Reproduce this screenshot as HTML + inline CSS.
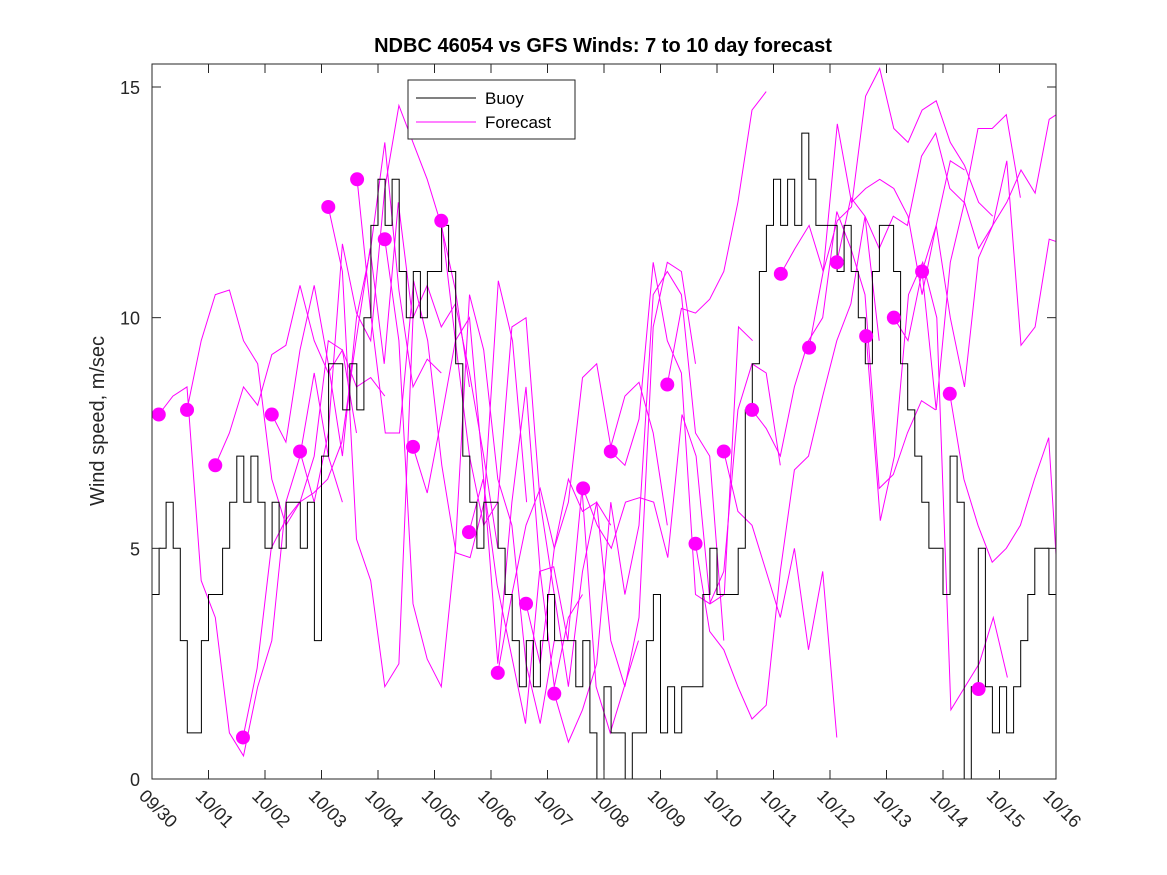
<!DOCTYPE html>
<html><head><meta charset="utf-8"><style>
body{margin:0;background:#fff;}
svg{display:block;font-family:"Liberation Sans",sans-serif;}
</style></head><body>
<svg id="chart" width="1167" height="875">
<defs><clipPath id="plotclip"><rect x="152" y="64" width="904" height="715"/></clipPath></defs>
<rect x="0" y="0" width="1167" height="875" fill="#fff"/>
<text x="603" y="52" text-anchor="middle" font-weight="bold" font-size="20">NDBC 46054 vs GFS Winds: 7 to 10 day forecast</text>
<text transform="translate(104,421) rotate(-90)" text-anchor="middle" font-size="20" fill="#262626">Wind speed, m/sec</text>
<g clip-path="url(#plotclip)">
<g id="forecasts"></g>
<g id="buoy"></g>
<g id="dots"></g>
</g>
<g id="axes"></g>
<g>
<rect x="408" y="80" width="167" height="59" fill="#fff" stroke="#262626" stroke-width="1"/>
<line x1="416" y1="98" x2="476" y2="98" stroke="#000"/>
<text x="485" y="104" font-size="17">Buoy</text>
<line x1="416" y1="122" x2="476" y2="122" stroke="#f0f"/>
<text x="485" y="128" font-size="17">Forecast</text>
</g>
</svg>
<script>
const xTickLabels=["09/30","10/01","10/02","10/03","10/04","10/05","10/06","10/07","10/08","10/09","10/10","10/11","10/12","10/13","10/14","10/15","10/16"];
const yTicks=[0,5,10,15];
const buoyValues=[4,5,6,5,3,1,1,3, 4,4,5,6,7,6,7,6, 5,6,5,6,6,5,6,3, 7,9,9,8,9,8,10,12, 13,12,13,11,10,11,10,11, 11,12,11,9,7,6,5,6, 6,5,4,3,2,3,2,3, 4,3,3,3,2,3,1,0, 2,1,1,0,1,1,3,4, 1,2,1,2,2,2,4,5, 4,4,4,5,8,9,11,12, 13,12,13,12,14,13,12,12, 12,11,12,11,10,9,11,12, 12,11,9,8,7,6,5,5, 4,7,6,0,2,5,2,1, 2,1,2,3,4,5,5,4,5];
const dotDays=[0.12,0.62,1.12,1.61,2.12,2.62,3.12,3.63,4.12,4.62,5.12,5.61,6.12,6.62,7.12,7.63,8.12,9.12,9.62,10.12,10.62,11.13,11.63,12.12,12.64,13.13,13.63,14.12,14.63];
const dotValues=[7.9,8.0,6.8,0.9,7.9,7.1,12.4,13.0,11.7,7.2,12.1,5.35,2.3,3.8,1.85,6.3,7.1,8.55,5.1,7.1,8.0,10.95,9.35,11.2,9.6,10.0,11.0,8.35,1.95];
const fcStarts=[0.12,0.62,1.12,1.61,2.12,2.62,3.12,3.63,4.12,4.62,5.12,5.61,6.12,6.62,7.12,7.63,8.12,9.12,9.62,10.12,10.62,11.13,11.63,12.12,12.64,13.13,13.63,14.12];
const fcValues=[
[7.9,8.3,8.5,4.3,3.5,1.0,0.5,2,3,6,7,8.8,7,6],
[8.0,9.5,10.5,10.6,9.5,9.0,6.5,5.5,6,7,9.5,9.3,7.5],
[6.8,7.5,8.5,8.1,9.2,9.4,10.7,9.5,8.8,9.3,8.5,8.7,8.3],
[0.9,2.4,5,5.6,6.0,6.2,6.5,7.3,9.5,11.5,9.0,12.5,10],
[7.9,7.3,9.3,10.7,9.0,7.0,10.0,11.5,13.8,10.6,8.5,9.1,8.8],
[7.1,6.0,7.5,11.6,10.1,9.5,12.8,14.6,13.8,13.0,12.0,10.6,8.5],
[12.4,11.0,5.2,4.3,2.0,2.5,10.0,10.7,9.8,10.3,8.8,7.0,5.0],
[13.0,10,7.5,7.5,10.8,9.5,6.8,4.9,4.8,6.0,10.8,9.5,6.0],
[11.7,9.5,3.8,2.6,2.0,5.0,10.5,9.3,6.5,5.5,2.5,1.2,3.0],
[7.2,6.2,7.8,9.5,10.0,6.5,2.5,6.0,8.5,4.5,2.0,3.5,4.0],
[12.1,9.5,7.0,5.5,6.0,9.8,10.0,6.0,4.0,2.0,4.5,6.0,5.5],
[5.35,6.5,4.2,2.7,1.2,4.5,4.6,3.0,6.3,2.0,1.0,2.0,3.0],
[2.3,4.0,5.5,6.3,5.0,6.0,8.7,9.0,7.2,8.3,8.6,7.5,5.5],
[3.8,2.5,5.0,6.5,5.8,6.0,3.0,2.0,3.5,9.8,11.2,11.0,9.0],
[1.85,0.8,1.5,2.5,6.0,4.0,5.5,10.5,11.0,10.5,7.5,7.0,3.0],
[6.3,5.5,5.0,6.0,6.1,6.0,4.8,7.9,7.0,3.8,4.0,9.8,9.5],
[7.1,6.8,7.8,11.2,9.5,8.8,4.0,3.8,4.5,8.0,9.0,8.8,6.8],
[8.55,10.2,10.1,10.4,11.0,12.5,14.5,14.9],
[5.1,3.2,2.8,2.0,1.3,1.6,4.5,6.7,7.0,8.3,9.5,10.3,12.2,9.5],
[7.1,5.8,5.5,4.5,3.5,5.0,2.8,4.5,0.9],
[8.0,7.6,7.0,8.5,9.5,10.0,12.3,11.5,10.5,6.3,6.6,7.5,8.2,8.0],
[10.95,11.5,12.0,11.0,14.2,12.5,12.8,13.0,12.8,12.2,10.5,12.0,13.4,13.2],
[9.35,11.0,12.1,12.4,14.8,15.4,14.1,13.8,14.5,14.7,13.8,13.3,12.5,12.2],
[11.2,12.6,12.2,11.5,12.2,12.0,13.5,14.0,12.8,12.5,14.1,14.1,14.4,12.6],
[9.6,5.6,7.0,10.5,11.2,10.0,1.5,2.0,2.5,3.5,2.2],
[10.0,9.5,11.0,12.0,10.0,8.5,11.3,12.0,12.5,13.2,12.7,14.3,14.5],
[11.0,8.0,11.2,12.5,11.5,12.0,13.4,9.4,9.8,11.7,11.6,10.3,4.5],
[8.35,6.5,5.5,4.7,5.0,5.5,6.5,7.4,2.5,3.0,5.1,5.2,1.5]
];
const X0=152,X1=1056,Y0=779,Y1=87;
const NS="http://www.w3.org/2000/svg";
function xs(d){return X0+(X1-X0)*d/16;}
function ys(v){return Y0-(Y0-Y1)*v/15;}
const fg=document.getElementById('forecasts');
fcValues.forEach((vals,i)=>{
  const pts=vals.map((v,j)=>xs(fcStarts[i]+j*0.25).toFixed(1)+','+ys(v).toFixed(1)).join(' ');
  const p=document.createElementNS(NS,'polyline');
  p.setAttribute('points',pts);p.setAttribute('fill','none');p.setAttribute('stroke','#f0f');p.setAttribute('stroke-width','1');
  
  
  fg.appendChild(p);
});
let d='';
buoyValues.forEach((v,i)=>{
  const x=xs(i*0.125).toFixed(1),y=ys(v).toFixed(1);
  d+=(i===0?('M'+x+' '+y+' '):('H'+x+' V'+y+' '));
});
d+='H'+xs(16);
const bp=document.createElementNS(NS,'path');
bp.setAttribute('d',d);bp.setAttribute('fill','none');bp.setAttribute('stroke','#000');bp.setAttribute('stroke-width','1');


document.getElementById('buoy').appendChild(bp);
const dg=document.getElementById('dots');
dotDays.forEach((dd,i)=>{
  const c=document.createElementNS(NS,'circle');
  c.setAttribute('cx',xs(dd));c.setAttribute('cy',ys(dotValues[i]));c.setAttribute('r','7');c.setAttribute('fill','#f0f');
  
  
  dg.appendChild(c);
});
const ag=document.getElementById('axes');
let h='<rect x="'+X0+'" y="64" width="'+(X1-X0)+'" height="'+(Y0-64)+'" fill="none" stroke="#262626" stroke-width="1"/>';
xTickLabels.forEach((t,i)=>{
  const x=xs(i);
  h+='<line x1="'+x+'" y1="'+Y0+'" x2="'+x+'" y2="'+(Y0-9)+'" stroke="#262626"/>';
  h+='<line x1="'+x+'" y1="64" x2="'+x+'" y2="73" stroke="#262626"/>';
  h+='<text transform="translate('+(x-14)+',797) rotate(45)" font-size="18" fill="#262626">'+t+'</text>';
});
yTicks.forEach(v=>{
  const y=ys(v);
  h+='<line x1="'+X0+'" y1="'+y+'" x2="'+(X0+9)+'" y2="'+y+'" stroke="#262626"/>';
  h+='<line x1="'+X1+'" y1="'+y+'" x2="'+(X1-9)+'" y2="'+y+'" stroke="#262626"/>';
  h+='<text x="140" y="'+(y+7)+'" text-anchor="end" font-size="18" fill="#262626">'+v+'</text>';
});
ag.innerHTML=h;
</script>
</body></html>
